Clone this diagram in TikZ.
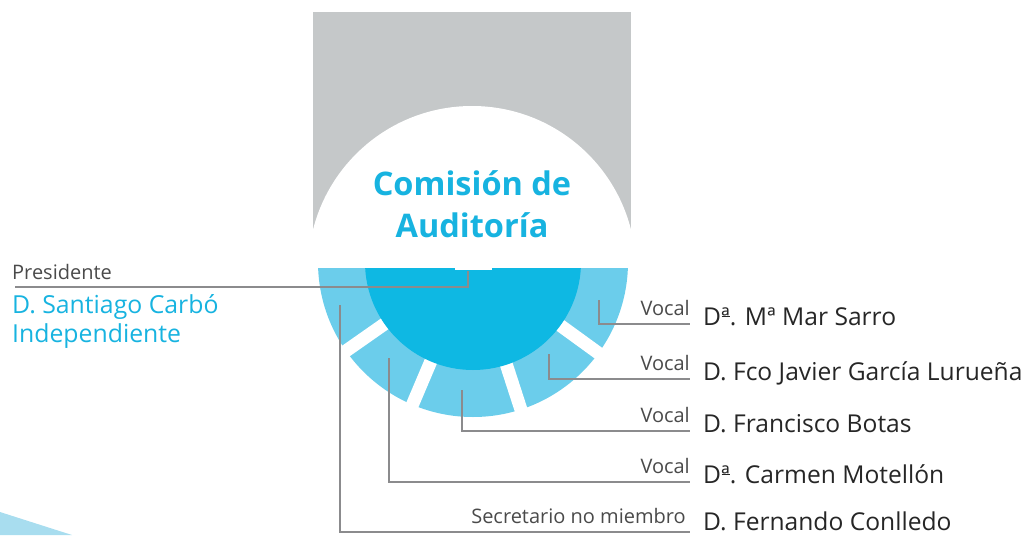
\documentclass[tikz,border=0pt]{standalone}
\usepackage{fontspec}
\setmainfont{Open Sans}
\definecolor{graybox}{HTML}{C5C8C9}
\definecolor{ringlight}{HTML}{6BCDEB}
\definecolor{ringdark}{HTML}{0EB8E3}
\definecolor{titlecol}{HTML}{17B3E0}
\definecolor{linegray}{HTML}{8B8B8D}
\definecolor{namecol}{HTML}{262626}
\definecolor{rolecol}{HTML}{4A4A4A}
\definecolor{swoosh}{HTML}{A8DDEF}
\newcommand\myordu{\makebox[0pt][l]{\kern0.02em\raisebox{0.34em}{\rule{0.33em}{0.045em}}}ª}
\begin{document}
\begin{tikzpicture}[x=1pt,y=-1pt,
  conn/.style={draw=linegray, line width=2pt},
  person/.style={anchor=base west, inner sep=0pt, text=namecol, font=\fontsize{24.6}{28}\selectfont},
  role/.style={anchor=base east, inner sep=0pt, text=rolecol, font=\fontsize{20}{24}\selectfont},
  titletext/.style={anchor=base, inner sep=0pt, text=titlecol, font=\fontsize{32.5}{40}\selectfont\bfseries},
  presname/.style={anchor=base west, inner sep=0pt, text=titlecol, font=\fontsize{24.8}{28}\selectfont},
]
\useasboundingbox (0,0) rectangle (1032,535);
% bottom-left swoosh
\fill[swoosh] (0,512) .. controls (25,520) and (50,528) .. (72,535) -- (0,535) -- cycle;
% gray block with white circle
\fill[graybox] (313,12) rectangle (631,268);
\fill[white] (472,270) circle (164pt);
% ring
\begin{scope}
  \clip (300,268) rectangle (650,440);
  \fill[ringlight] (473,262) circle (155pt);
  \foreach \a in {36,72,113,145}
    \draw[white, line width=13pt] (473,262) -- ++(\a:175);
  \fill[ringdark] (473,262) circle (108pt);
\end{scope}
\fill[white] (455,266) rectangle (492,270);
% title
\node[titletext] (t1) at (472,195) {Comisión de};
\node[titletext] (t2) at (472,237) {Auditoría};
% president
\node[role, anchor=base west] (prol) at (12,279) {Presidente};
\node[presname] (pn1) at (12,313) {D. Santiago Carbó};
\node[presname] (pn2) at (12,342) {Independiente};
\coordinate (ps) at (468,271);
\coordinate (pe) at (15,287);
\draw[conn] (ps) |- (pe);
% members
\coordinate (s1) at (599,300); \coordinate (e1) at (690,324);
\coordinate (s2) at (549,354); \coordinate (e2) at (690,379);
\coordinate (s3) at (462,390); \coordinate (e3) at (690,431);
\coordinate (s4) at (389,358); \coordinate (e4) at (690,482);
\coordinate (s5) at (340,305); \coordinate (e5) at (690,532);
\foreach \i in {1,...,5} \draw[conn] (s\i) |- (e\i);
\node[role] (r1) at (690,315) {Vocal};
\node[role] (r2) at (690,370) {Vocal};
\node[role] (r3) at (690,422) {Vocal};
\node[role] (r4) at (690,473) {Vocal};
\node[role] (r5) at (686,523) {Secretario no miembro};
\node[person] (n1) at (703,325) {D\myordu. Mª Mar Sarro};
\node[person] (n2) at (703,380) {D. Fco Javier García Lurueña};
\node[person] (n3) at (703,432) {D. Francisco Botas};
\node[person] (n4) at (703,483) {D\myordu. Carmen Motellón};
\node[person] (n5) at (703,530) {D. Fernando Conlledo};
\end{tikzpicture}
\end{document}
